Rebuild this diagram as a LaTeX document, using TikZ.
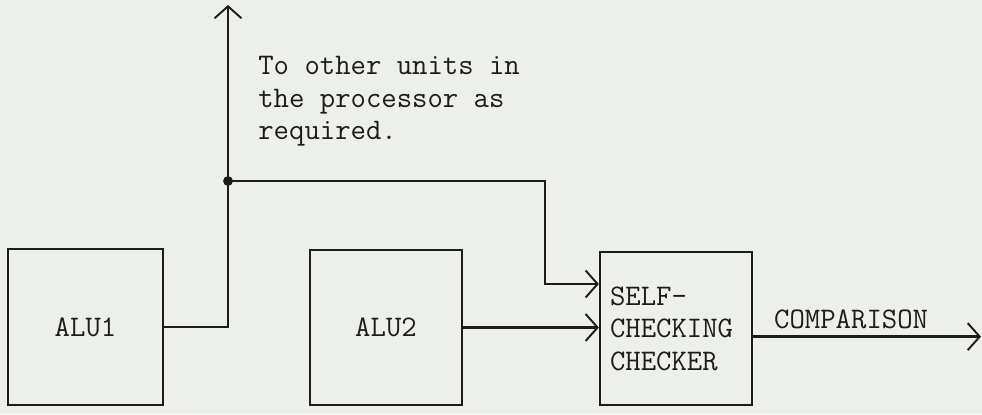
\documentclass[tikz,border=0pt]{standalone}
\usepackage{xcolor}
\definecolor{paper}{RGB}{237,239,234}
\definecolor{ink}{RGB}{28,28,28}
\usetikzlibrary{arrows.meta,positioning,calc}

\tikzset{
  unitbox/.style={draw=ink, line width=1.3pt, rectangle, inner sep=0pt, font=\fontsize{17}{18.5}\selectfont\ttfamily, text=ink},
  sigline/.style={draw=ink, line width=1.3pt},
  sigarrow/.style={sigline, -{Straight Barb[length=2.4mm,width=5.4mm,line width=1.1pt]}},
  lbl/.style={font=\fontsize{17}{18.5}\selectfont\ttfamily, text=ink, inner sep=0pt}
}

\begin{document}
\begin{tikzpicture}[x=0.02cm, y=-0.02cm]
  %% page
  \fill[paper] (0,0) rectangle (982,414);
  \useasboundingbox (0,0) rectangle (982,414);

  %% Units
  \node[unitbox, minimum width=3.1cm, minimum height=3.12cm]  (alu1) at (85.5,327) {ALU1};
  \node[unitbox, minimum width=3.04cm, minimum height=3.1cm] (alu2) at (386,327.5) {ALU2};
  \node[unitbox, minimum width=3.04cm, minimum height=3.06cm, text width=2.64cm, align=left] (chk) at (676,328.5)
    {SELF-\\CHECKING\\CHECKER};

  %% Bus points
  \coordinate (top)  at (228,5);
  \coordinate (junc) at (228,181);
  \coordinate (bend) at (545,181);
  \coordinate (out)  at (981,337);

  %% Connectors
  \draw[sigarrow] (alu1.east) -| (top);
  \fill[ink] (junc) circle (2.8pt);
  \draw[sigarrow] (junc) -- (bend) |- (chk.150);
  \draw[sigarrow] (alu2.east) -- (alu2.east -| chk.west);
  \draw[sigarrow] (chk.-6) -- (chk.-6 -| out)
    node[lbl, above=0.13cm, pos=0.43] (cmp) {COMPARISON};

  %% Note
  \node[lbl, anchor=north west, align=left] (note) at (258,56)
    {To other units in\\the processor as\\required.};
\end{tikzpicture}
\end{document}
